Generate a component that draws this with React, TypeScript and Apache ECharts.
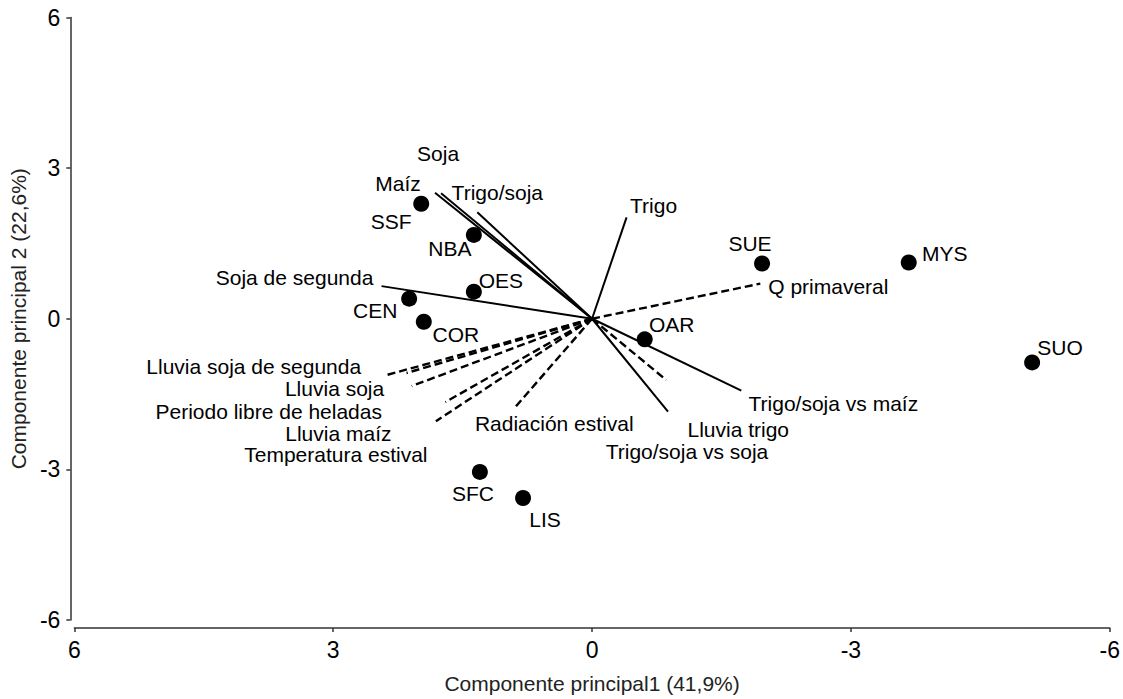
import { useEffect, useRef } from "react";
import * as echarts from "echarts";

// Sites (scores on the first two principal components)
const sites = ["SSF", "NBA", "OES", "CEN", "COR", "OAR", "SUE", "MYS", "SUO", "SFC", "LIS"];
const siteCP1 = [1.98, 1.37, 1.37, 2.12, 1.95, -0.61, -1.97, -3.67, -5.1, 1.3, 0.8];
const siteCP2 = [2.29, 1.67, 0.54, 0.4, -0.06, -0.41, 1.1, 1.12, -0.87, -3.05, -3.57];

// Variables (loadings drawn as vectors from the origin)
const variables = [
  "Soja",
  "Maíz",
  "Trigo/soja",
  "Trigo",
  "Soja de segunda",
  "Trigo/soja vs maíz",
  "Trigo/soja vs soja",
  "Lluvia trigo",
  "Q primaveral",
  "Radiación estival",
  "Lluvia soja de segunda",
  "Lluvia soja",
  "Periodo libre de heladas",
  "Lluvia maíz",
  "Temperatura estival",
];
const varCP1 = [1.75, 1.82, 1.33, -0.4, 2.44, -1.73, -0.88, -0.86, -1.95, 0.89, 2.38, 2.15, 2.09, 1.7, 1.81];
const varCP2 = [2.5, 2.51, 2.12, 2.02, 0.65, -1.43, -1.85, -1.22, 0.7, -1.76, -1.12, -1.08, -1.34, -1.66, -2.04];

// Environmental variables are drawn with dashed vectors
const environmentalVars = [
  "Lluvia trigo",
  "Q primaveral",
  "Radiación estival",
  "Lluvia soja de segunda",
  "Lluvia soja",
  "Periodo libre de heladas",
  "Lluvia maíz",
  "Temperatura estival",
];

// Axis range
const axisMin = -6;
const axisMax = 6;
const axisStep = 3;

// Label placement (pixel offsets from the mark)
const siteLabelOffset: Record<string, [number, number]> = {
  SSF: [-30, 18],
  NBA: [-24, 14],
  OES: [27, -11],
  CEN: [-34, 12],
  COR: [32, 13],
  OAR: [27, -15],
  SUE: [-12, -20],
  MYS: [36, -9],
  SUO: [28, -15],
  SFC: [-7, 22],
  LIS: [22, 22],
};
const varLabelOffset: Record<string, [number, number]> = {
  Soja: [-3, -40],
  "Maíz": [-37, -9],
  "Trigo/soja": [20, -20],
  Trigo: [27, -12],
  "Soja de segunda": [-87, -9],
  "Trigo/soja vs maíz": [92, 13],
  "Trigo/soja vs soja": [19, 40],
  "Lluvia trigo": [72, 49],
  "Q primaveral": [68, 3],
  "Radiación estival": [39, 16],
  "Lluvia soja de segunda": [-133, -8],
  "Lluvia soja": [-72, 16],
  "Periodo libre de heladas": [-143, 25],
  "Lluvia maíz": [-107, 31],
  "Temperatura estival": [-100, 33],
};

const FONT = "'Liberation Sans', Arial, sans-serif";
const TEXT_COLOR = "#000";

export default function App() {
  const ref = useRef<HTMLDivElement>(null);

  useEffect(() => {
    if (!ref.current) return;
    const chart = echarts.init(ref.current, undefined, { renderer: "svg" });

    const vectorSeries = variables.map((name, i) => ({
      type: "line",
      name,
      data: [
        [0, 0],
        [varCP1[i], varCP2[i]],
      ],
      showSymbol: false,
      symbol: "none",
      silent: true,
      lineStyle: {
        color: "#000",
        width: environmentalVars.includes(name) ? 2.4 : 2,
        type: environmentalVars.includes(name) ? [8, 4] : "solid",
        opacity: 1,
      },
      z: 2,
    }));

    const labelStyle = {
      show: true,
      position: "inside",
      formatter: "{b}",
      fontSize: 21,
      color: TEXT_COLOR,
      fontFamily: FONT,
      align: "center",
      verticalAlign: "middle",
    };

    const option = {
      animation: false,
      backgroundColor: "#fff",
      grid: { left: 74, right: 9, top: 17.5, bottom: 78, containLabel: false },
      xAxis: {
        type: "value",
        min: axisMin,
        max: axisMax,
        interval: axisStep,
        inverse: true,
        position: "bottom",
        offset: 8,
        name: "Componente principal1 (41,9%)",
        nameLocation: "middle",
        nameGap: 45,
        nameTextStyle: { fontSize: 21, color: "#222", fontFamily: FONT },
        axisLine: { show: true, onZero: false, lineStyle: { color: "#333", width: 1.5 } },
        axisTick: { show: true, length: 4, lineStyle: { color: "#333", width: 1.5 } },
        axisLabel: { fontSize: 23, color: "#000", margin: 10, fontFamily: FONT },
        splitLine: { show: false },
      },
      yAxis: {
        type: "value",
        min: axisMin,
        max: axisMax,
        interval: axisStep,
        position: "left",
        offset: 4,
        name: "Componente principal 2 (22,6%)",
        nameLocation: "middle",
        nameGap: 41,
        nameTextStyle: { fontSize: 21, color: "#222", fontFamily: FONT },
        axisLine: { show: true, onZero: false, lineStyle: { color: "#333", width: 1.5 } },
        axisTick: { show: true, length: 4, lineStyle: { color: "#333", width: 1.5 } },
        axisLabel: { fontSize: 23, color: "#000", margin: 10, fontFamily: FONT },
        splitLine: { show: false },
      },
      series: [
        ...vectorSeries,
        {
          type: "scatter",
          name: "variables",
          symbolSize: 0,
          silent: true,
          itemStyle: { opacity: 1 },
          data: variables.map((name, i) => ({
            name,
            value: [varCP1[i], varCP2[i]],
            label: { offset: varLabelOffset[name] },
          })),
          label: labelStyle,
          z: 3,
        },
        {
          type: "scatter",
          name: "sitios",
          symbol: "circle",
          symbolSize: 16,
          itemStyle: { color: "#000", opacity: 1 },
          data: sites.map((name, i) => ({
            name,
            value: [siteCP1[i], siteCP2[i]],
            label: { offset: siteLabelOffset[name] },
          })),
          label: labelStyle,
          z: 4,
        },
      ],
    };

    chart.setOption(option as any);
    return () => chart.dispose();
  }, []);

  return (
    <div
      ref={ref}
      style={{ position: "fixed", left: 0, top: 0, width: 1123, height: 699 }}
    />
  );
}
